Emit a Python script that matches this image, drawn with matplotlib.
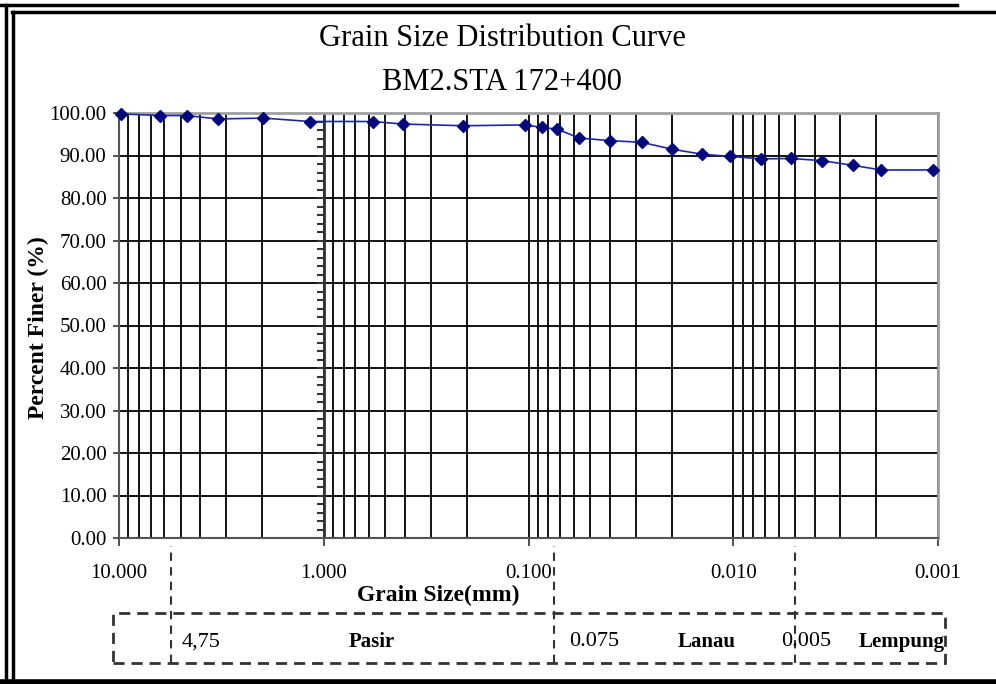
import matplotlib.pyplot as plt
import matplotlib.transforms as mtransforms
from matplotlib.patches import Rectangle
from matplotlib.lines import Line2D
from matplotlib.ticker import FixedLocator, LogLocator, FuncFormatter

plt.rcParams['font.family'] = ['Liberation Serif', 'DejaVu Serif']

# grain size (mm) and percent finer
grain_mm = [9.8, 6.3, 4.67, 3.27, 1.97, 1.17, 0.577, 0.411, 0.208, 0.104, 0.0862,
            0.0723, 0.0565, 0.040, 0.028, 0.020, 0.0142, 0.0104, 0.00735,
            0.00524, 0.0037, 0.00261, 0.0019, 0.00106]
pct_finer = [99.8, 99.4, 99.4, 98.6, 98.8, 98.0, 98.0, 97.4, 97.0, 97.2, 96.6,
             96.2, 94.1, 93.5, 93.1, 91.5, 90.3, 89.8, 89.2,
             89.3, 88.8, 87.7, 86.6, 86.6]

major_x = [10, 1, 0.1, 0.01, 0.001]
y_ticks = list(range(0, 101, 10))

# soil class boundaries (value labels and where the dashed lines sit)
bound_labels = ["4,75", "0.075", "0.005"]
bound_pos = [5.6, 0.075, 0.005]
class_names = ["Pasir", "Lanau", "Lempung"]

W, H = 996, 684
fig = plt.figure(figsize=(W / 100, H / 100), dpi=100)
ax = fig.add_axes([119 / W, 1 - 538 / H, (938 - 119) / W, (538 - 113) / H])

ax.set_xscale('log')
ax.set_xlim(10, 0.001)
ax.set_ylim(0, 100)

ax.xaxis.set_major_locator(FixedLocator(major_x))
ax.xaxis.set_minor_locator(LogLocator(base=10, subs=range(2, 10)))
ax.xaxis.set_major_formatter(FuncFormatter(lambda v, p: f"{v:.3f}"))
ax.xaxis.set_minor_formatter(FuncFormatter(lambda v, p: ""))
ax.set_yticks(y_ticks)
ax.yaxis.set_major_formatter(FuncFormatter(lambda v, p: f"{v:.2f}"))

ax.grid(True, which='both', axis='x', color='black', lw=1.3)
ax.grid(True, which='major', axis='y', color='black', lw=1.3)
ax.set_axisbelow(True)

ax.tick_params(axis='x', which='major', length=6, width=1.3, direction='out',
               labelsize=15, pad=13, color='#444444')
ax.tick_params(axis='x', which='minor', length=0)
ax.tick_params(axis='y', length=4, width=1.3, direction='out', labelsize=15,
               pad=5, color='#444444')

for s in ['top', 'right']:
    ax.spines[s].set_color('#a0a0a0')
    ax.spines[s].set_linewidth(2)
for s in ['left', 'bottom']:
    ax.spines[s].set_color('#555555')
    ax.spines[s].set_linewidth(1.5)

# secondary axis line at 1 mm with small ticks
ax.axvline(1, color='#333333', lw=2)
ax.plot([1] * 50, [2 * i for i in range(50)], linestyle='none', marker=0,
        markersize=5, color='#333333', mew=1.5)

ax.plot(grain_mm, pct_finer, color='#1f2a9a', lw=1.2, marker='D',
        markersize=6.5, markerfacecolor='#00087a', markeredgecolor='#00087a',
        clip_on=False, zorder=5)

ax.set_ylabel("Percent Finer (%)", fontsize=17, fontweight='bold')
ax.yaxis.set_label_coords(-0.086, 0.494)
ax.set_xlabel("Grain Size(mm)", fontsize=17, fontweight='bold')
ax.xaxis.set_label_coords(0.3895, -0.11)

fig.text(502 / W, 1 - 38 / H, "Grain Size Distribution Curve", fontsize=22,
         ha='center', va='center')
fig.text(502 / W, 1 - 82 / H, "BM2.STA 172+400", fontsize=22,
         ha='center', va='center')

# dashed classification box below the axis
fig.add_artist(Rectangle((113 / W, 1 - 663 / H), (945 - 113) / W, 50 / H,
                         transform=fig.transFigure, fill=False,
                         linestyle=(0, (4, 2.5)), lw=2, edgecolor='#333333'))
trans = mtransforms.blended_transform_factory(ax.transData, fig.transFigure)
for xb in bound_pos:
    fig.add_artist(Line2D([xb, xb], [1 - 663 / H, 1 - 546 / H], transform=trans,
                          linestyle=(0, (4, 3)), lw=1.5, color='#333333'))

label_px = [201, 594, 806]
name_px = [372, 707, 902]
for lab, px in zip(bound_labels, label_px):
    fig.text(px / W, 1 - 642 / H, lab, fontsize=16, ha='center', va='center')
for name, px in zip(class_names, name_px):
    fig.text(px / W, 1 - 642 / H, name, fontsize=15, fontweight='bold',
             ha='center', va='center')

# double frame around the whole chart
frame = [
    ([0, 957], [5, 5], 2.5), ([12, 996], [12, 12], 2.5),
    ([6, 6], [5, 684], 2.5), ([13, 13], [12, 684], 2.5),
    ([0, 996], [682, 682], 4),
]
for xs, ys, lw in frame:
    fig.add_artist(Line2D([x / W for x in xs], [1 - y / H for y in ys],
                          transform=fig.transFigure, color='black', lw=lw))

fig.savefig("out.png", dpi=100)
